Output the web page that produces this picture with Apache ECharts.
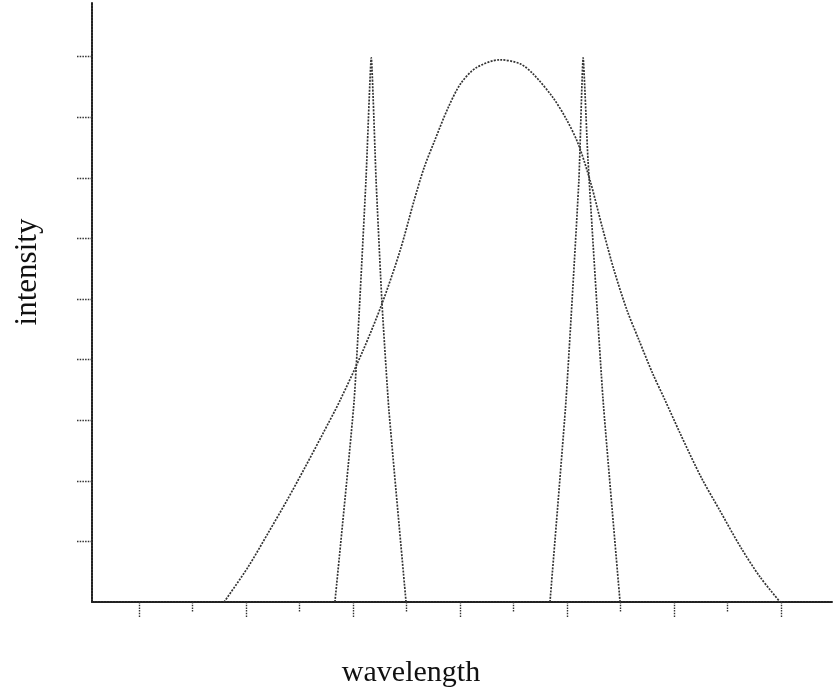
<!DOCTYPE html>
<html>
<head>
<meta charset="utf-8">
<script src="https://cdn.jsdelivr.net/npm/echarts@6/dist/echarts.min.js"></script>
<style>html,body{margin:0;padding:0;background:#fff}#c{width:833px;height:691px}</style>
</head>
<body>
<div id="c"></div>
<script>
// Broad emission curve: [wavelength, intensity]
var broadX = [415.89, 420.37, 424.11, 427.66, 431.03, 434.39, 437.57, 441.87, 445.42, 448.79, 451.40, 453.27, 455.24, 457.76, 460.09, 462.99, 467.48, 471.21, 473.64, 477.38, 479.81, 482.06, 484.30, 486.54, 488.79, 491.21, 493.46, 495.98, 498.32, 501.12, 505.05, 508.51, 512.43, 516.07, 519.81];
var broadY = [0, 0.577, 1.137, 1.680, 2.224, 2.784, 3.328, 4.152, 4.926, 5.799, 6.623, 7.166, 7.611, 8.155, 8.550, 8.814, 8.946, 8.880, 8.715, 8.320, 7.974, 7.562, 6.952, 6.194, 5.470, 4.811, 4.316, 3.773, 3.328, 2.784, 2.059, 1.516, 0.906, 0.412, 0];
// Narrow line 1
var narrow1X = [436.6, 440.2, 442.4, 443.4, 444.3, 445.4, 446.7, 449.9];
var narrow1Y = [0, 3.33, 6.95, 8.98, 6.95, 4.93, 3.16, 0];
// Narrow line 2
var narrow2X = [476.8, 479.8, 482.2, 483.0, 483.9, 486.7, 489.9];
var narrow2Y = [0, 3.33, 6.95, 8.98, 7.30, 3.36, 0];
// Tick positions
var xMajorTicks = [400, 420, 440, 460, 480, 500, 520];
var xMinorTicks = [410, 430, 450, 470, 490, 510];
var yTicks = [1, 2, 3, 4, 5, 6, 7, 8, 9];
var xName = 'wavelength';
var yName = 'intensity';

function pairs(xs, ys) { return xs.map(function (x, i) { return [x, ys[i]]; }); }

var lineStyleAxis = { color: '#222', width: 2, type: [2, 1] };
var curveStyle = { color: '#333', width: 1.7, type: [2, 1.3] };
var tickStyle = { color: '#333', width: 1.4, type: [1.5, 1.2] };

var chart = echarts.init(document.getElementById('c'), null, { renderer: 'canvas' });
chart.setOption({
  animation: false,
  grid: { left: 92, right: 0, top: 2, bottom: 89, containLabel: false },
  xAxis: [
    { type: 'value', min: 391.2, max: 529.7, position: 'bottom',
      axisLine: { show: true, lineStyle: lineStyleAxis },
      axisTick: { show: true, length: 16, inside: false, customValues: xMajorTicks, lineStyle: tickStyle },
      axisLabel: { show: false }, splitLine: { show: false } },
    { type: 'value', min: 391.2, max: 529.7, position: 'bottom',
      axisLine: { show: false },
      axisTick: { show: true, length: 10, inside: false, customValues: xMinorTicks, lineStyle: tickStyle },
      axisLabel: { show: false }, splitLine: { show: false } }
  ],
  yAxis: {
    type: 'value', min: 0, max: 9.9,
    axisLine: { show: true, lineStyle: lineStyleAxis },
    axisTick: { show: true, length: 15, customValues: yTicks, lineStyle: tickStyle },
    axisLabel: { show: false }, splitLine: { show: false }
  },
  series: [
    { type: 'line', data: pairs(broadX, broadY), showSymbol: false, symbol: 'none', smooth: 0.3, lineStyle: curveStyle },
    { type: 'line', data: pairs(narrow1X, narrow1Y), showSymbol: false, symbol: 'none', smooth: 0.15, lineStyle: curveStyle },
    { type: 'line', data: pairs(narrow2X, narrow2Y), showSymbol: false, symbol: 'none', smooth: 0.15, lineStyle: curveStyle }
  ],
  graphic: [
    { type: 'text', x: 411, y: 673, style: { text: xName, font: '30px "Liberation Serif", "DejaVu Serif", serif', fill: '#111', textAlign: 'center', textVerticalAlign: 'middle' } },
    { type: 'text', x: 28, y: 272, rotation: Math.PI / 2, style: { text: yName, font: '31px "Liberation Serif", "DejaVu Serif", serif', fill: '#111', textAlign: 'center', textVerticalAlign: 'middle' } }
  ]
});
</script>
</body>
</html>
